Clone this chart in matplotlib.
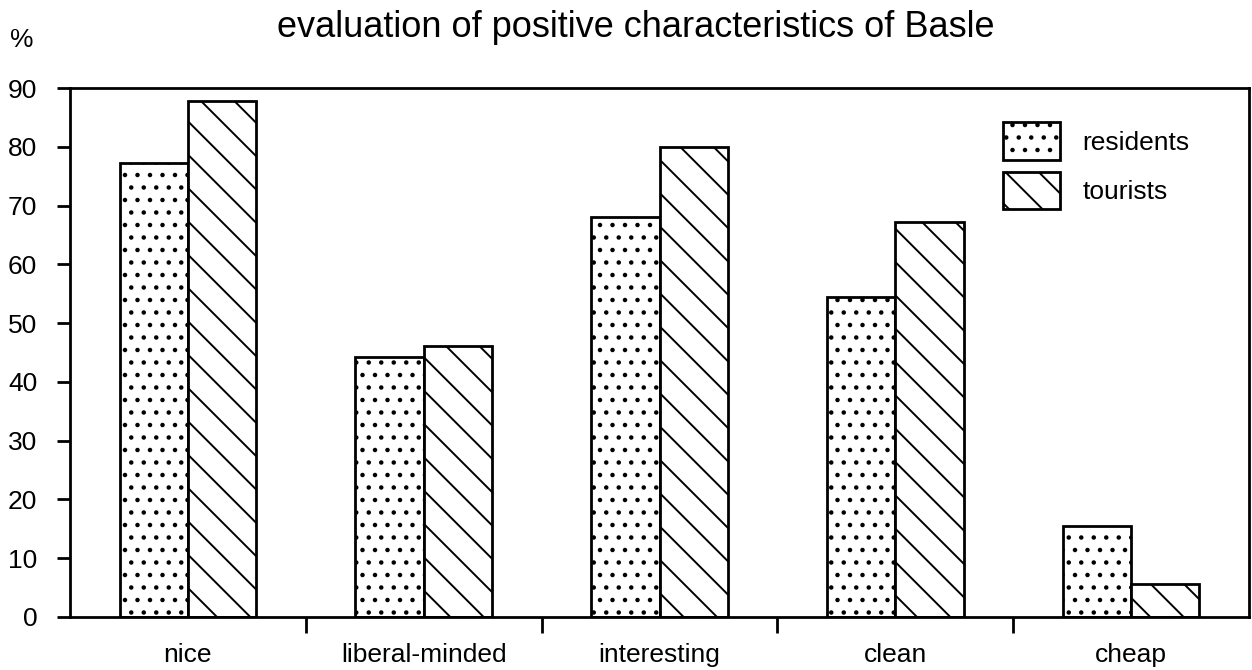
import numpy as np
import matplotlib
matplotlib.use('Agg')
import matplotlib.pyplot as plt
import matplotlib.hatch as mhatch
from matplotlib.ticker import FixedLocator, NullFormatter

categories = ['nice', 'liberal-minded', 'interesting', 'clean', 'cheap']
residents = [77.3, 44.3, 68, 54.5, 15.5]
tourists = [87.8, 46.1, 80, 67.2, 5.6]
yticks = [0, 10, 20, 30, 40, 50, 60, 70, 80, 90]

# dots a bit denser than the default '.' hatch
_dots_init = mhatch.SmallFilledCircles.__init__
def _denser_dots(self, hatch, density):
    _dots_init(self, hatch, density * 4 // 3)
mhatch.SmallFilledCircles.__init__ = _denser_dots

plt.rcParams['font.family'] = ['Liberation Sans', 'DejaVu Sans']
plt.rcParams['hatch.linewidth'] = 1.4

fig = plt.figure(figsize=(12.52, 6.7), dpi=100)
ax = fig.add_axes([70 / 1252, 53 / 670, 1179 / 1252, 529 / 670])

x = np.arange(len(categories))
w = 0.29
ax.bar(x - w / 2, residents, w, facecolor='white', edgecolor='black',
       linewidth=2, hatch='.', label='residents')
ax.bar(x + w / 2, tourists, w, facecolor='white', edgecolor='black',
       linewidth=2, hatch='\\', label='tourists')

ax.set_xlim(-0.5, len(categories) - 0.5)
ax.set_ylim(0, 90)
ax.set_yticks(yticks)
ax.tick_params(axis='y', direction='out', length=9.5, width=2, pad=14, labelsize=19)
ax.set_xticks(x)
ax.set_xticklabels(categories)
ax.tick_params(axis='x', which='major', length=0, pad=19, labelsize=19)
ax.xaxis.set_minor_locator(FixedLocator(x[:-1] + 0.5))
ax.xaxis.set_minor_formatter(NullFormatter())
ax.tick_params(axis='x', which='minor', direction='out', length=11.5, width=2)
for s in ax.spines.values():
    s.set_linewidth(2)

ax.legend(loc='upper left', bbox_to_anchor=(0.7917, 0.935), frameon=False,
          borderpad=0, borderaxespad=0, fontsize=19, handlelength=2.15,
          handleheight=1.81, handletextpad=0.85, labelspacing=0.45)

fig.text(636 / 1252, 1 - 37 / 670, 'evaluation of positive characteristics of Basle',
         ha='center', va='baseline', fontsize=26)
fig.text(10 / 1252, 1 - 40 / 670, '%', ha='left', va='center', fontsize=19)

fig.savefig('out.png', dpi=100)
